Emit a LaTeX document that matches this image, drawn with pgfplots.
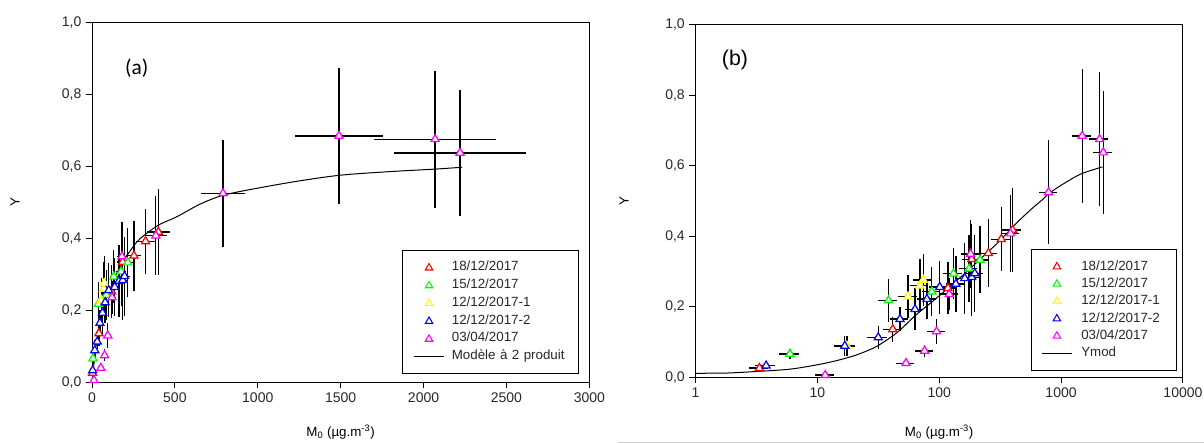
\documentclass[border=0pt]{standalone}
\usepackage{fontspec}
\setmainfont{Liberation Sans}
\newfontfamily\carlito{Carlito}
\usepackage{pgfplots}
\pgfplotsset{compat=1.18}
\usepackage{pgfplotstable}
\definecolor{cR}{RGB}{255,0,0}
\definecolor{cG}{RGB}{0,255,0}
\definecolor{cY}{RGB}{255,255,0}
\definecolor{cB}{RGB}{0,0,255}
\definecolor{cM}{RGB}{255,0,255}
\definecolor{txt}{RGB}{40,40,40}

% x y ex ey
\pgfplotstableread{
x y ex ey
3.35 0.026 0.6 0.008
41.6 0.136 7 0.035
118 0.253 20 0.073
185 0.335 32 0.10
253 0.352 45 0.097
323 0.392 55 0.09
400 0.418 70 0.12
}\redD
\pgfplotstableread{
x y ex ey
5.96 0.066 1.1 0.014
38.4 0.218 7 0.06
87 0.243 15 0.07
131 0.294 23 0.073
176 0.308 30 0.095
216 0.333 38 0.095
}\greenD
\pgfplotstableread{
x y ex ey
17.5 0.089 3 0.028
55.5 0.229 10 0.06
69.5 0.260 12 0.075
74 0.276 13 0.075
}\yellowD
\pgfplotstableread{
x y ex ey
3.8 0.033 0.7 0.008
16.8 0.089 3 0.028
31.6 0.113 6 0.032
47.7 0.165 8 0.035
63.3 0.193 11 0.06
79.3 0.222 14 0.057
101 0.256 18 0.075
137 0.265 24 0.08
162 0.281 28 0.10
185 0.284 32 0.11
196 0.295 34 0.11
}\blueD
\pgfplotstableread{
x y ex ey
11.6 0.006 2 0.004
53.4 0.040 9 0.005
75.9 0.075 13 0.017
95.1 0.130 16 0.035
121 0.236 21 0.045
181 0.350 31 0.097
385 0.408 65 0.11
790 0.525 135 0.148
1490 0.685 263 0.19
2070 0.676 367 0.19
2220 0.638 397 0.175
}\magD
% model curve, panel (a)
\pgfplotstableread{
x y
0 0
5 0.02
15 0.065
30 0.12
45 0.165
60 0.20
80 0.228
108 0.258
140 0.295
170 0.32
210 0.352
270 0.39
310 0.407
400 0.437
510 0.46
650 0.495
790 0.52
1000 0.54
1250 0.56
1500 0.576
1800 0.586
2076 0.593
2231 0.598
}\curveA
% Ymod curve, panel (b)
\pgfplotstableread{
x y
1 0.0114
1.81 0.012
3.39 0.017
5.96 0.023
9.85 0.035
14.3 0.047
20.8 0.063
30.4 0.087
44.4 0.125
64.5 0.177
88 0.215
121 0.256
165 0.297
226 0.341
309 0.385
423 0.435
573 0.478
697 0.503
791 0.521
1000 0.545
1452 0.577
2182 0.597
}\curveB

\pgfplotsset{
  common/.style={
    scale only axis,
    axis line style={line width=0.75pt, black},
    tick style={line width=0.75pt, black},
    tick align=outside,
    major tick length=4.5pt,
    xtick pos=bottom, ytick pos=left,
    ymin=0, ymax=1,
    ytick={0,0.2,0.4,0.6,0.8,1},
    yticklabel style={/pgf/number format/.cd, fixed, fixed zerofill, precision=1, use comma},
    /pgf/number format/assume math mode=true,
    tick label style={font=\fontsize{10.5}{12}\selectfont, txt},
    label style={font=\fontsize{10}{12}\selectfont, txt},
    legend cell align=left,
  },
  ebar/.style={forget plot, only marks, mark=none,
    error bars/.cd, x dir=both, x explicit, y dir=both, y explicit,
    error mark=none, error bar style={black, line width=1pt}},
  tri/.style={forget plot, only marks, mark=triangle*, mark size=3.5pt,
    mark options={draw=#1, fill=white, line width=0.9pt, solid}},
  legmark/.style={only marks, mark=triangle, mark size=3.2pt,
    mark options={draw=#1, line width=0.8pt}},
  legtriA/.style={legend image code/.code={\path (0pt,0pt); \draw[##1] plot coordinates {(15.5pt,0pt)};}},
  leglineA/.style={legend image code/.code={\path (0pt,0pt); \draw[##1] (4pt,0pt) -- (27pt,0pt);}},
  legtriB/.style={legend image code/.code={\path (0pt,0pt); \draw[##1] plot coordinates {(14.6pt,0pt)};}},
  leglineB/.style={legend image code/.code={\path (0pt,0pt); \draw[##1] (3.3pt,0pt) -- (26pt,0pt);}},
}

\begin{document}
\begin{tikzpicture}
\path[use as bounding box] (0,0) rectangle (903pt,332.25pt);
\draw[black!20, line width=0.75pt] (463.5pt,0.5pt) -- (903pt,0.5pt);

% ---------------- panel (a)
\begin{axis}[common,
  at={(69pt,45.5pt)}, anchor=south west,
  width=373pt, height=269.75pt,
  xmin=0, xmax=3000, xtick={0,500,...,3000},
  xticklabel style={/pgf/number format/1000 sep={}},
  xlabel={M\textsubscript{0} (µg.m\textsuperscript{-3})},
  ylabel={Y},
  every axis x label/.style={at={(axis description cs:0.5,-0.139)}, anchor=center},
  every axis y label/.style={at={(axis description cs:-0.1546,0.5)}, anchor=center, rotate=90},
  legend style={at={(0.980,0.367)}, anchor=north east, draw=black, line width=0.75pt,
    inner xsep=4.25pt, inner ysep=6.07pt, row sep=0pt,
    /tikz/every odd column/.style={column sep=5.25pt},
    nodes={inner sep=0pt, text height=8.78pt, text depth=4.58pt, text width=91pt, align=left,
      font=\fontsize{10}{12}\selectfont, txt}},
]
\addplot[ebar] table[x=x,y=y,x error=ex,y error=ey]{\redD};
\addplot[ebar] table[x=x,y=y,x error=ex,y error=ey]{\greenD};
\addplot[ebar] table[x=x,y=y,x error=ex,y error=ey]{\yellowD};
\addplot[ebar] table[x=x,y=y,x error=ex,y error=ey]{\blueD};
\addplot[ebar] table[x=x,y=y,x error=ex,y error=ey]{\magD};
\addplot[forget plot, black, line width=0.75pt, smooth] table[x=x,y=y]{\curveA};
\addplot[tri=cR] table[x=x,y=y]{\redD};
\addplot[tri=cG] table[x=x,y=y]{\greenD};
\addplot[tri=cY] table[x=x,y=y]{\yellowD};
\addplot[tri=cB] table[x=x,y=y]{\blueD};
\addplot[tri=cM] table[x=x,y=y]{\magD};
\node[font=\carlito\fontsize{16}{18}\selectfont] at (rel axis cs:0.090,0.874) {(a)};
\addlegendimage{legmark=cR, legtriA}
\addlegendimage{legmark=cG, legtriA}
\addlegendimage{legmark=cY, legtriA}
\addlegendimage{legmark=cB, legtriA}
\addlegendimage{legmark=cM, legtriA}
\addlegendimage{black, line width=0.75pt, leglineA}
\legend{18/12/2017, 15/12/2017, 12/12/2017-1, 12/12/2017-2, 03/04/2017, Modèle à 2 produit}
\end{axis}

% ---------------- panel (b)
\begin{axis}[common,
  at={(521.6pt,49.3pt)}, anchor=south west,
  width=365.6pt, height=264.2pt,
  xmode=log, xmin=1, xmax=10000,
  xtick={1,10,100,1000,10000}, xticklabels={1,10,100,1000,10000},
  xminorticks=false,
  xlabel={M\textsubscript{0} (µg.m\textsuperscript{-3})},
  ylabel={Y},
  every axis x label/.style={at={(axis description cs:0.5,-0.155)}, anchor=center},
  every axis y label/.style={at={(axis description cs:-0.1467,0.5)}, anchor=center, rotate=90},
  legend style={at={(0.988,0.364)}, anchor=north east, draw=black, line width=0.75pt,
    inner xsep=4pt, inner ysep=6.375pt, row sep=0pt,
    /tikz/every odd column/.style={column sep=6.5pt},
    nodes={inner sep=0pt, text height=9.2pt, text depth=3.8pt, text width=67.5pt, align=left,
      font=\fontsize{10}{12}\selectfont, txt}},
]
\addplot[ebar] table[x=x,y=y,x error=ex,y error=ey]{\redD};
\addplot[ebar] table[x=x,y=y,x error=ex,y error=ey]{\greenD};
\addplot[ebar] table[x=x,y=y,x error=ex,y error=ey]{\yellowD};
\addplot[ebar] table[x=x,y=y,x error=ex,y error=ey]{\blueD};
\addplot[ebar] table[x=x,y=y,x error=ex,y error=ey]{\magD};
\addplot[forget plot, black, line width=0.75pt, smooth] table[x=x,y=y]{\curveB};
\addplot[tri=cR] table[x=x,y=y]{\redD};
\addplot[tri=cG] table[x=x,y=y]{\greenD};
\addplot[tri=cY] table[x=x,y=y]{\yellowD};
\addplot[tri=cB] table[x=x,y=y]{\blueD};
\addplot[tri=cM] table[x=x,y=y]{\magD};
\node[font=\fontsize{16}{18}\selectfont] at (rel axis cs:0.081,0.90) {(b)};
\addlegendimage{legmark=cR, legtriB}
\addlegendimage{legmark=cG, legtriB}
\addlegendimage{legmark=cY, legtriB}
\addlegendimage{legmark=cB, legtriB}
\addlegendimage{legmark=cM, legtriB}
\addlegendimage{black, line width=0.75pt, leglineB}
\legend{18/12/2017, 15/12/2017, 12/12/2017-1, 12/12/2017-2, 03/04/2017, Ymod}
\end{axis}
\end{tikzpicture}
\end{document}
